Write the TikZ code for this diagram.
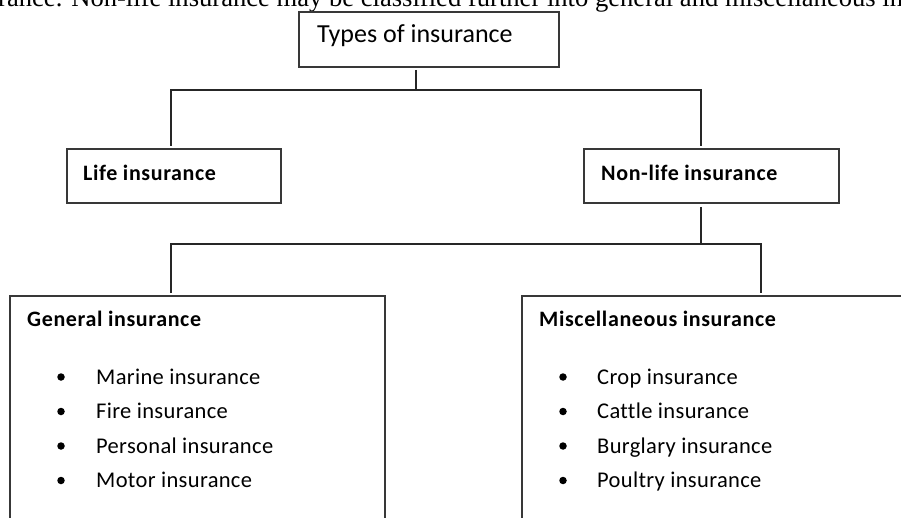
\documentclass[tikz,border=0pt]{standalone}
\usepackage{fontspec}
\setmainfont{Carlito}
\newfontfamily\seriffont{Liberation Serif}
\newfontfamily\headfont[LetterSpace=2.8,Ligatures=NoCommon]{Carlito Bold}
\newfontfamily\itemfont[LetterSpace=1.5,Ligatures=NoCommon]{Carlito}
\begin{document}
\begin{tikzpicture}[x=1pt,y=-1pt,
  box/.style={draw=black!78,line width=1.3pt,inner sep=0pt,outer sep=0pt,anchor=north west},
  conn/.style={draw=black!85,line width=1.1pt},
  title/.style={anchor=base west,inner sep=0pt,font=\fontsize{26}{30}\selectfont},
  head/.style={anchor=base west,inner sep=0pt,font=\headfont\fontsize{22}{26}\selectfont},
  item/.style={anchor=base west,inner sep=0pt,font=\itemfont\fontsize{22.5}{27}\selectfont},
  bul/.style={circle,fill=black,inner sep=0pt,minimum size=7.5pt}]
\useasboundingbox (0,0) rectangle (901,518);
\clip (0,0) rectangle (901,518);
% clipped running text above the chart
\node[anchor=base west,inner sep=0pt,font=\seriffont\fontsize{26.6}{30}\selectfont] (para) at (-2,7)
  {rance. Non-life insurance may be classified further into general and miscellaneous in};
% boxes
\node[box,minimum width=260pt,minimum height=55pt] (topbox) at (299,12) {};
\node[box,minimum width=214pt,minimum height=54pt] (lifebox) at (67,149) {};
\node[box,minimum width=255pt,minimum height=54pt] (nonbox) at (584,149) {};
\node[box,minimum width=375pt,minimum height=260pt] (genbox) at (10,296) {};
\node[box,minimum width=400pt,minimum height=260pt] (miscbox) at (522,296) {};
% texts
\node[title] (ttl) at (317,43) {Types of insurance};
\node[head] (lifet) at (83,181) {Life insurance};
\node[head] (nont) at (601,181) {Non-life insurance};
\node[head] (gent) at (27,326) {General insurance};
\node[head] (misct) at (539,326) {Miscellaneous insurance};
\foreach \t [count=\i] in {Marine insurance,Fire insurance,Personal insurance,Motor insurance}{
  \node[bul] (gb\i) at (61,377+34.5*\i-34.5) {};
  \node[item] (gi\i) at (96,384+34.5*\i-34.5) {\t};
}
\foreach \t [count=\i] in {Crop insurance,Cattle insurance,Burglary insurance,Poultry insurance}{
  \node[bul] (mb\i) at (563,377+34.5*\i-34.5) {};
  \node[item] (mi\i) at (597,384+34.5*\i-34.5) {\t};
}
% connectors
\coordinate (s1) at (416,70);
\coordinate (j1) at (416,90);
\coordinate (l1) at (171,90);
\coordinate (l2) at (171,146);
\coordinate (r1) at (701,90);
\coordinate (r2) at (701,146);
\coordinate (s2) at (701,207);
\coordinate (j2) at (701,244);
\coordinate (g1) at (171,244);
\coordinate (g2) at (171,293);
\coordinate (m1) at (761,244);
\coordinate (m2) at (761,293);
\draw[conn] (s1) -- (j1);
\draw[conn] (l2) -- (l1) -- (r1) -- (r2);
\draw[conn] (s2) -- (j2);
\draw[conn] (g2) -- (g1) -- (m1) -- (m2);
\end{tikzpicture}
\end{document}
